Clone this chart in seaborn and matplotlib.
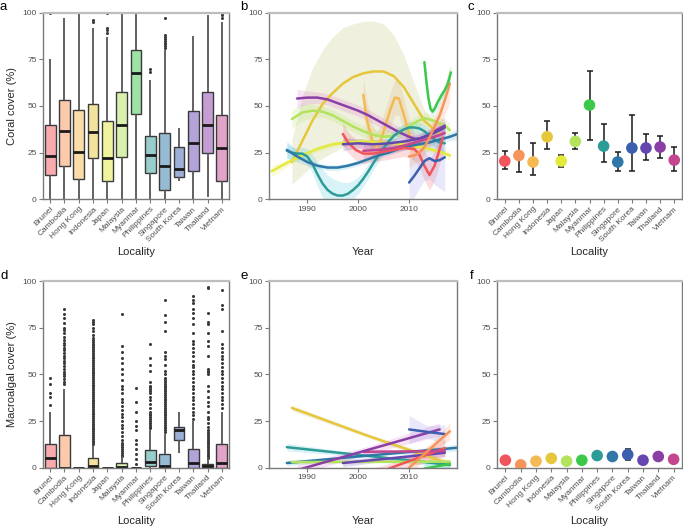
import numpy as np
import pandas as pd
import matplotlib
matplotlib.use("Agg")
import matplotlib.pyplot as plt
import seaborn as sns
from matplotlib.colors import to_rgb

# ---------------- data ----------------
localities = ["Brunei", "Cambodia", "Hong Kong", "Indonesia", "Japan", "Malaysia", "Myanmar",
              "Philippines", "Singapore", "South Korea", "Taiwan", "Thailand", "Vietnam"]
loc_colors = ["#F2545B", "#F7945A", "#F5B953", "#E6C63A", "#E2EA3E", "#B3E35C", "#3CC84A",
              "#2E9C96", "#2F77A6", "#3B5FAF", "#6647B0", "#8B3FA6", "#C2478F"]

# panel a: coral cover box summaries
a_lo = [0, 0, 0, 0, 0, 0, 0, 0, 0, 10, 0, 1, 0]
a_q1 = [13, 18, 11, 22, 10, 22.5, 45.5, 14, 5, 12, 15, 25, 10]
a_med = [23, 36.5, 25.5, 36, 22, 40, 67.5, 23.5, 18, 16.5, 30, 40, 27.5]
a_q3 = [40, 53, 48, 51, 42, 57.5, 80, 34, 35.5, 28, 47.5, 57.5, 45]
a_hi = [75, 97, 100, 92, 87, 100, 100, 64, 80, 38, 87.5, 99, 95]
a_out_loc = (["Brunei"] + ["Indonesia"] * 2 + ["Japan"] * 4 + ["Philippines"] * 2 +
             ["Singapore"] * 9 + ["Vietnam"] * 3)
a_out_val = ([100] + [95, 96] + [89, 90.5, 92, 100] + [68, 70] +
             [81, 82, 83, 84, 85, 86, 87, 88, 97] + [97, 99, 100])

# panel d: macroalgal cover box summaries
d_lo = [0, 0, 0, 0, 0, 0, 0, 0, 0, 8, 0, 0, 0]
d_q1 = [0, 0, 0, 0, 0, 0, 0, 1, 0, 15, 0, 0, 0]
d_med = [5, 0, 0, 1, 0, 0.3, 0, 3, 1, 20, 2.5, 1, 2.5]
d_q3 = [12.5, 17.5, 0, 5, 0, 2.5, 0, 9.5, 7.5, 22, 10, 2, 12.5]
d_hi = [30, 42, 0, 12, 0, 6, 0, 20, 18, 30, 25, 5, 30]
d_out_brunei = [33.5, 38, 40, 45, 48]
d_out_cambodia = [45, 46, 47.5, 49, 50, 51.5, 53, 54.5, 56, 57, 58.5, 60, 61.5, 63, 64, 65.5,
                  67, 68.5, 70, 72, 73.5, 75, 77.5, 80, 82.5, 85]
d_out_indonesia = [12.5, 13.5, 14.5, 15.5, 16.5, 17.5, 18.5, 19.5, 20.5, 21.5, 22.5, 23.5, 24.5,
                   25.5, 26.5, 27.5, 28.5, 29.5, 30.5, 31.5, 32.5, 33.5, 34.5, 35.5, 36.5, 37.5,
                   38.5, 39.5, 40.5, 41.5, 42.5, 43.5, 44.5, 45.5, 46.5, 47.5, 48.5, 49.5, 50.5,
                   51.5, 52.5, 53.5, 54.5, 55.5, 56.5, 57.5, 58.5, 59.5, 60.5, 61.5, 62.5, 63.5,
                   64.5, 65.5, 66.5, 67.5, 68.5, 69.5, 71, 73, 75, 77, 78, 79]
d_out_malaysia = [6, 7, 8, 9, 10, 11, 12, 13, 15, 17, 19, 21, 23, 25, 27, 29, 31, 33, 35, 37,
                  40, 42, 44, 47, 50, 53, 56, 59, 62, 65, 82.5]
d_out_myanmar = [2, 4.5, 7.5, 10, 12.5, 15, 20, 22.5, 25, 30, 35, 42.5]
d_out_philippines = [21, 22, 23, 24, 25, 26, 27, 28, 29, 30, 32, 34, 36, 38, 40, 41, 42, 43,
                     44, 46, 52, 55, 59, 66]
d_out_singapore = [19, 20, 21, 22, 23, 24, 25, 26, 27, 28, 29, 30, 31, 32, 33, 34, 35, 36, 37,
                   38, 39, 40, 41, 42, 43, 44, 45, 46, 47, 48, 50, 52, 55, 58, 60, 62, 73, 78,
                   82, 90]
d_out_taiwan = [26, 28, 30, 32, 34, 36, 38, 40, 42, 44, 46, 48, 50, 52, 54, 55, 57, 60, 62, 64,
                66, 68, 72, 77, 80, 83, 85, 88, 90, 92]
d_out_thailand = [5, 6, 7, 8, 9, 10, 11, 12, 13, 14, 15, 16, 17, 18, 19, 20, 22, 24, 26, 27,
                  30, 33, 35, 38, 41, 44, 50, 51, 52, 53, 60, 65, 68, 72, 77, 78, 83, 96, 97]
d_out_vietnam = [32, 34, 36, 38, 40, 42, 44, 46, 48, 50, 52, 54, 56, 58, 60, 62, 64, 66, 73,
                 85, 87, 95]

# panel b: smoothed coral cover trends (year, fit, lower, upper)
b_brunei = [(1997, 35, 29, 41), (1998, 30.5, 25, 36), (1999.5, 26.5, 21, 32), (2001, 24.5, 19, 30),
            (2003, 24.5, 20, 29), (2005, 25.5, 21, 30), (2007, 26.5, 22, 31), (2009, 27.5, 23, 32),
            (2011, 27, 21, 33), (2012, 24, 17, 31), (2013, 18, 10, 26), (2014, 13, 5, 21),
            (2015, 18, 10, 26), (2016, 27, 19, 35), (2016.6, 33, 24, 42)]
b_cambodia = [(2010, 23, 17, 29), (2011, 23.5, 19, 28), (2012, 25, 21, 29), (2013, 28, 24, 32),
              (2014, 33, 28, 38), (2015, 39, 33, 45), (2016, 45, 38, 52), (2017, 53, 45, 61),
              (2018, 62, 52, 72)]
b_hongkong = [(2001, 56, 46, 66), (2001.7, 43, 33, 53), (2002.7, 32, 23, 41), (2003.6, 28, 20, 36),
              (2004.5, 32, 24, 40), (2005.3, 39, 30, 48), (2006.3, 48, 39, 57), (2007.2, 54.5, 45, 64),
              (2008, 54, 45, 63), (2009, 45, 36, 54), (2010, 35, 27, 43), (2011, 28, 20, 36)]
b_indonesia = [(1987, 20, 8, 32), (1989, 31, 13, 55), (1991, 42, 18, 70), (1993, 51, 22, 80),
               (1995, 57, 25, 87), (1997, 62, 28, 92), (1999, 65.5, 30, 94), (2001, 67.5, 32, 95.5),
               (2003, 68.5, 33, 95.5), (2005, 68.5, 33, 94), (2007, 66, 34, 88), (2009, 60, 33, 77),
               (2011, 51, 30, 62), (2013, 42, 28, 48), (2015, 37, 28, 42), (2016, 35, 28, 41)]
b_japan = [(1983, 15, 12, 18), (1986, 19.5, 17.5, 21.5), (1989, 23.5, 22, 25), (1992, 27, 25.5, 28.5),
           (1995, 29.5, 28, 31), (1998, 30.5, 29, 32), (2001, 31, 29.5, 32.5), (2004, 30.5, 29, 32),
           (2007, 30, 28.5, 31.5), (2010, 29, 27.5, 30.5), (2013, 27.5, 26, 29), (2016, 25.5, 23.5, 27.5),
           (2018, 23.5, 21, 26)]
b_malaysia = [(1987, 43, 38, 48), (1989, 46.5, 42, 51), (1991, 47.5, 44, 51), (1993, 47, 44, 50),
              (1995, 45, 42, 48), (1997, 42, 39, 45), (1999, 39, 36, 42), (2001, 36.5, 33.5, 39.5),
              (2003, 34.5, 31.5, 37.5), (2005, 33.5, 30.5, 36.5), (2007, 34, 31, 37), (2009, 37, 34, 40),
              (2011, 41, 38, 44), (2013, 43.5, 40.5, 46.5), (2015, 42, 39, 45), (2017, 39.5, 36, 43),
              (2018, 37, 33, 41)]
b_myanmar = [(2013, 73.5, 70, 77), (2013.4, 63, 60, 66), (2013.8, 54, 51, 57), (2014.2, 48.5, 46, 51),
             (2014.6, 47, 44.5, 49.5), (2015, 48.5, 46, 51), (2015.6, 52, 49.5, 54.5), (2016.3, 55.5, 53, 58),
             (2017, 58.5, 56, 61), (2017.6, 62, 59, 65), (2018.2, 68, 64, 72)]
b_philippines = [(1986, 26, 22, 30), (1987, 25, 22, 28), (1988, 24.5, 21.5, 27.5), (1989, 24.5, 21, 28),
                 (1990, 23, 19, 27), (1991, 19, 14, 24), (1992, 13.5, 7, 20), (1993, 8.5, 1, 16),
                 (1994, 5, -3, 13), (1995, 3, -5, 11), (1996, 2, -6, 10), (1997, 2, -5, 9),
                 (1998, 3, -3, 9), (1999, 5, 0, 10), (2000, 7.5, 3, 12), (2001, 11, 7, 15),
                 (2002, 15, 11, 19), (2003, 19.5, 16, 23), (2004, 23.5, 20, 27), (2005, 27.5, 24, 31),
                 (2006, 31, 28, 34), (2007, 34, 31, 37), (2008, 36, 33, 39), (2009, 37.5, 34.5, 40.5),
                 (2010, 38.5, 35.5, 41.5), (2011, 38.5, 35.5, 41.5), (2012, 38, 35, 41), (2013, 36.5, 33, 40),
                 (2014, 34, 30, 38), (2015, 32, 28, 36), (2016, 30.5, 26, 35), (2017, 30, 25, 35)]
b_singapore = [(1986, 26.5, 22, 31), (1988, 23, 20, 26), (1990, 20, 18, 22), (1992, 18, 16.5, 19.5),
               (1994, 17, 15.5, 18.5), (1996, 17, 15.5, 18.5), (1998, 18, 16.5, 19.5), (2000, 19.5, 18, 21),
               (2002, 21.5, 20, 23), (2004, 23.5, 22, 25), (2006, 25, 23.5, 26.5), (2008, 27, 25.5, 28.5),
               (2010, 28.5, 27, 30), (2012, 29.5, 28, 31), (2014, 30.5, 29, 32), (2016, 32, 30.5, 33.5),
               (2018, 33.5, 31.5, 35.5), (2019.5, 35, 32, 38)]
b_southkorea = [(2010, 9, -3, 21), (2011, 12.5, 1, 24), (2012, 16.5, 6, 27), (2013, 20.5, 10, 30),
                (2014, 22, 11, 32), (2015, 20.5, 8, 32), (2016, 21, 6, 35), (2017, 22.5, 4, 40)]
b_taiwan = [(1997, 29.5, 26, 33), (2000, 30, 27.5, 32.5), (2003, 29.5, 27, 32), (2006, 30, 27.5, 32.5),
            (2009, 31, 28.5, 33.5), (2012, 32.5, 30, 35), (2014, 34.5, 32, 37), (2016, 37, 34, 40),
            (2017, 38.5, 35, 42)]
b_thailand = [(1988, 54, 49, 59), (1990, 54.5, 51, 58), (1992, 54.5, 51.5, 57.5), (1994, 53.5, 50.5, 56.5),
              (1996, 51.5, 48.5, 54.5), (1998, 49.5, 46.5, 52.5), (2000, 47.5, 44.5, 50.5), (2002, 45, 42, 48),
              (2004, 42, 39, 45), (2006, 39, 36, 42), (2008, 36, 33, 39), (2010, 33.5, 30.5, 36.5),
              (2011, 32.5, 29.5, 35.5), (2012, 32.5, 29.5, 35.5), (2013, 33.5, 30.5, 36.5), (2014, 35, 32, 38),
              (2015, 36.5, 33, 40), (2016, 38, 34, 42), (2017, 39.5, 35, 44)]
b_vietnam = [(2001, 26, 22, 30), (2004, 26.5, 23.5, 29.5), (2007, 27.5, 25, 30), (2010, 29.5, 27, 32),
             (2013, 32, 29.5, 34.5), (2015, 33.5, 31, 36), (2017, 35.5, 32, 39)]

# panel e: linear macroalgal trends (year, fit, lower, upper)
e_brunei = [(1997, -9.6, -14, -5), (2007, 0.5, -2, 3), (2017, 10.5, 6, 15)]
e_cambodia = [(2010, 0, -4, 4), (2014, 9.8, 7, 12.5), (2018, 19.5, 15, 24)]
e_indonesia = [(1987, 32, 30.5, 33.5), (2002, 17, 16, 18), (2018, 2, 0, 4)]
e_malaysia = [(1987, 3, 2, 4), (2002, 3.2, 2.5, 4), (2018, 3.2, 2, 4.5)]
e_myanmar = [(2013, -0.5, -3, 2), (2018, 2, 0, 4)]
e_philippines = [(1986, 11, 9, 13), (2002, 6.3, 5.5, 7), (2018, 1.5, -0.5, 3.5)]
e_singapore = [(1986, 2.5, 1, 4), (2002, 6.5, 6, 7), (2019.5, 10.7, 9, 12.5)]
e_southkorea = [(2010, 20.5, 13, 28), (2013.5, 19.2, 16, 22.5), (2017, 18, 13, 23)]
e_taiwan = [(1997, 2.5, 0.5, 4.5), (2007, 5.2, 4.2, 6.2), (2017, 8, 6, 10)]
e_thailand = [(1988, -1.3, -4, 1.5), (2002, 9.6, 7.5, 11.5), (2016, 20.5, 17, 24)]
e_vietnam = [(2001, 8.5, 7, 10), (2009, 8.7, 8, 9.5), (2017, 9, 7.5, 10.5)]

# panel c: mean coral cover with intervals
c_mean = [20.5, 23.5, 20, 33.5, 20.5, 31, 50.5, 28.5, 20, 27.5, 27.5, 28, 21]
c_lo = [16, 14.5, 13, 27, 17.5, 27, 32, 20, 15, 15, 21, 22, 15]
c_hi = [26, 35.5, 30, 42, 23.5, 35.5, 69, 40.5, 25.5, 45, 35, 34, 28]

# panel f: mean macroalgal cover (no Japan)
f_locs = ["Brunei", "Cambodia", "Hong Kong", "Indonesia", "Malaysia", "Myanmar", "Philippines",
          "Singapore", "South Korea", "Taiwan", "Thailand", "Vietnam"]
f_mean = [4, 1.5, 3.5, 5, 3.5, 4, 6.5, 6, 7, 4, 6, 4.5]
f_lo = [3, 1, 2.5, 4, 2.5, 3, 5, 5, 4, 3, 4, 3.5]
f_hi = [5, 2, 4.5, 6, 4.5, 5, 8, 7, 10, 5, 8, 5.5]

yticks = [0, 25, 50, 75, 100]
year_ticks = [1990, 2000, 2010]

# ---------------- style ----------------
sns.set_theme(style="white")
plt.rcParams["font.family"] = ["Liberation Sans", "DejaVu Sans"]

pal = dict(zip(localities, loc_colors))
light_pal = {k: tuple(0.5 * np.array(to_rgb(v)) + 0.5) for k, v in pal.items()}
# ribbon tints (lighter, slightly shifted like the reference)
ribbon_pal = dict(pal)
ribbon_pal["Indonesia"] = "#B8B860"
ribbon_pal["Philippines"] = "#3CC6D8"
ribbon_pal["Singapore"] = "#45B4DE"
ribbon_pal["Thailand"] = "#E070D0"
ribbon_pal["South Korea"] = "#8C8CE8"
ribbon_pal["Hong Kong"] = "#D8A860"
ribbon_pal["Myanmar"] = "#40D0C0"

W, H = 683, 528
fig = plt.figure(figsize=(W / 100, H / 100), dpi=100)


def px_axes(x0, x1, y0, y1):
    return fig.add_axes([x0 / W, 1 - y1 / H, (x1 - x0) / W, (y1 - y0) / H])


ax_a = px_axes(43, 229, 12.7, 199.3)
ax_b = px_axes(269, 457, 12.7, 199.3)
ax_c = px_axes(497, 682, 12.7, 199.3)
ax_d = px_axes(43, 229, 281, 467.7)
ax_e = px_axes(269, 457, 281, 467.7)
ax_f = px_axes(497, 682, 281, 467.7)

TICK_C = "#4D4D4D"


def style(ax):
    for s in ["left", "bottom", "right"]:
        ax.spines[s].set_color("#7A7A7A")
        ax.spines[s].set_linewidth(1.0)
        ax.spines[s].set_visible(True)
    ax.spines["top"].set_color("#BDBDBD")
    ax.spines["top"].set_linewidth(1.6)
    ax.spines["top"].set_visible(True)
    ax.tick_params(axis="both", which="both", direction="out", length=3, width=0.8,
                   color="#7A7A7A", labelcolor=TICK_C, labelsize=6, pad=1.5,
                   left=True, bottom=True)
    ax.set_ylim(0, 100)
    ax.set_yticks(yticks)
    ax.set_yticklabels([str(t) for t in yticks])
    ax.grid(False)


def box_panel(ax, lo, q1, med, q3, hi, out_loc, out_val, ylabel):
    rows = []
    for i, loc in enumerate(localities):
        for v in (lo[i], q1[i], med[i], q3[i], hi[i]):
            rows.append((loc, v))
    df = pd.DataFrame(rows, columns=["Locality", "value"])
    sns.boxplot(data=df, x="Locality", y="value", hue="Locality", order=localities,
                hue_order=localities, palette=light_pal, saturation=1, legend=False,
                whis=(0, 100), showfliers=False, showcaps=False, width=0.75,
                linecolor="#3A3A3A", linewidth=1.0,
                medianprops=dict(color="#1A1A1A", linewidth=2.0),
                whiskerprops=dict(color="#555555", linewidth=1.3), ax=ax)
    if len(out_val):
        sns.stripplot(x=out_loc, y=out_val, order=localities, jitter=False, color="#3A3A3A",
                      size=2.2, linewidth=0, ax=ax, zorder=1)
    style(ax)
    ax.set_xlim(-0.5, 12.5)
    ax.set_xticks(range(len(localities)))
    ax.set_xticklabels(localities, rotation=45, ha="right", rotation_mode="anchor")
    ax.set_xlabel("Locality", fontsize=8)
    ax.set_ylabel(ylabel, fontsize=8)
    ax.xaxis.set_label_coords(0.5, -0.285)
    ax.xaxis.label.set_va("center")
    ax.yaxis.set_label_coords(-0.165, 0.5)
    ax.yaxis.label.set_va("center")


# ---- panel a ----
box_panel(ax_a, a_lo, a_q1, a_med, a_q3, a_hi, a_out_loc, a_out_val, "Coral cover (%)")

# ---- panel d ----
d_out_loc, d_out_val = [], []
for loc, vals in [("Brunei", d_out_brunei), ("Cambodia", d_out_cambodia),
                  ("Indonesia", d_out_indonesia), ("Malaysia", d_out_malaysia),
                  ("Myanmar", d_out_myanmar), ("Philippines", d_out_philippines),
                  ("Singapore", d_out_singapore), ("Taiwan", d_out_taiwan),
                  ("Thailand", d_out_thailand), ("Vietnam", d_out_vietnam)]:
    d_out_loc += [loc] * len(vals)
    d_out_val += vals
box_panel(ax_d, d_lo, d_q1, d_med, d_q3, d_hi, d_out_loc, d_out_val, "Macroalgal cover (%)")


# ---- trend panels ----
def trend_panel(ax, series, lw=1.8):
    for loc, pts in series:
        arr = np.array(pts, dtype=float)
        ax.fill_between(arr[:, 0], arr[:, 2], arr[:, 3], color=ribbon_pal[loc], alpha=0.2,
                        lw=0, zorder=1)
    for loc, pts in series:
        arr = np.array(pts, dtype=float)
        sns.lineplot(x=arr[:, 0], y=arr[:, 1], color=pal[loc], linewidth=lw, errorbar=None,
                     ax=ax, zorder=2)
    style(ax)
    ax.set_xlim(1982.5, 2019.4)
    ax.set_xticks(year_ticks)
    ax.set_xticklabels([str(t) for t in year_ticks])
    ax.set_xlabel("Year", fontsize=8)
    ax.set_ylabel("")
    ax.xaxis.set_label_coords(0.5, -0.285)
    ax.xaxis.label.set_va("center")


trend_panel(ax_b, [("Indonesia", b_indonesia), ("Hong Kong", b_hongkong), ("Japan", b_japan),
                   ("Malaysia", b_malaysia), ("Thailand", b_thailand), ("Philippines", b_philippines),
                   ("Singapore", b_singapore), ("Brunei", b_brunei), ("Taiwan", b_taiwan),
                   ("Vietnam", b_vietnam), ("South Korea", b_southkorea), ("Cambodia", b_cambodia),
                   ("Myanmar", b_myanmar)])
trend_panel(ax_e, [("Indonesia", e_indonesia), ("Philippines", e_philippines),
                   ("Singapore", e_singapore), ("Malaysia", e_malaysia), ("Taiwan", e_taiwan),
                   ("Brunei", e_brunei), ("Vietnam", e_vietnam), ("Thailand", e_thailand),
                   ("South Korea", e_southkorea), ("Cambodia", e_cambodia), ("Myanmar", e_myanmar)])


# ---- mean panels ----
def mean_panel(ax, locs, mean, lo, hi):
    mean = np.array(mean)
    yerr = np.vstack([mean - np.array(lo), np.array(hi) - mean])
    xs = np.arange(len(locs))
    ax.errorbar(xs, mean, yerr=yerr, fmt="none", ecolor="#1A1A1A", elinewidth=1.1,
                capsize=2.5, capthick=1.1, zorder=2)
    sns.scatterplot(x=xs, y=mean, hue=locs, hue_order=locs, palette=[pal[l] for l in locs],
                    s=70, edgecolor="none", legend=False, ax=ax, zorder=3)
    style(ax)
    ax.set_xlim(-0.55, len(locs) - 0.45)
    ax.set_xticks(xs)
    ax.set_xticklabels(locs, rotation=45, ha="right", rotation_mode="anchor")
    ax.set_xlabel("Locality", fontsize=8)
    ax.set_ylabel("")
    ax.xaxis.set_label_coords(0.5, -0.285)
    ax.xaxis.label.set_va("center")


mean_panel(ax_c, localities, c_mean, c_lo, c_hi)
mean_panel(ax_f, f_locs, f_mean, f_lo, f_hi)

# panel letters
for lab, x, y in [("a", 3, 7), ("b", 244, 7), ("c", 471, 7),
                  ("d", 4, 276), ("e", 244, 276), ("f", 471.5, 276)]:
    fig.text(x / W, 1 - y / H, lab, fontsize=9.5, ha="center", va="center", color="black")

fig.savefig("out.png", dpi=100)
